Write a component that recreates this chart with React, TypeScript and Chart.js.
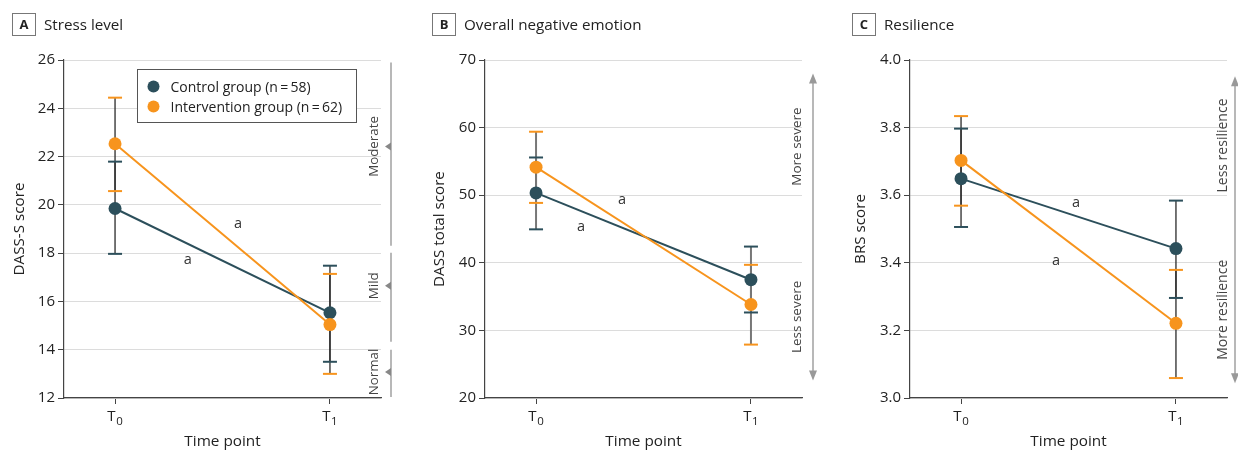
import React, { useEffect, useRef } from 'react';
import { Chart, registerables } from 'chart.js';

Chart.register(...registerables);

const FONT = '"Open Sans", "Noto Sans", sans-serif';
Chart.defaults.font.family = FONT;

// ---------- data ----------
const timeValues = [0, 1];
const timeMain = ['T', 'T'];
const timeSub = ['0', '1'];
const seriesNames = ['Control group (n\u2009=\u200958)', 'Intervention group (n\u2009=\u200962)'];
const seriesColors = ['#2c4f5b', '#f7941d'];

// A: stress
const stressControl = [19.85, 15.53];
const stressControlLo = [17.97, 13.5];
const stressControlHi = [21.79, 17.48];
const stressIntervention = [22.53, 15.04];
const stressInterventionLo = [20.57, 13.0];
const stressInterventionHi = [24.44, 17.14];
const stressMarkX = [0.572, 0.339];
const stressMarkY = [19.22, 17.73];
const stressBandLabels = ['Moderate', 'Mild', 'Normal'];
const stressBandFrom = [18.31, 14.33, 12.04];
const stressBandTo = [25.9, 18.02, 14.0];
const stressBandMark = [22.42, 16.65, 13.08];

// B: overall negative emotion
const negControl = [50.34, 37.5];
const negControlLo = [44.95, 32.65];
const negControlHi = [55.58, 42.4];
const negIntervention = [54.14, 33.83];
const negInterventionLo = [48.86, 27.9];
const negInterventionHi = [59.39, 39.7];
const negMarkX = [0.4, 0.209];
const negMarkY = [49.35, 45.35];
const negArrow = [22.6, 68.0];
const negArrowLabels = ['More severe', 'Less severe'];
const negArrowLabelY = [57.2, 32.0];

// C: resilience
const resControl = [3.649, 3.442];
const resControlLo = [3.506, 3.296];
const resControlHi = [3.797, 3.584];
const resIntervention = [3.703, 3.221];
const resInterventionLo = [3.569, 3.059];
const resInterventionHi = [3.834, 3.379];
const resMarkX = [0.535, 0.4415];
const resMarkY = [3.578, 3.406];
const resArrow = [3.044, 3.952];
const resArrowLabels = ['Less resilience', 'More resilience'];
const resArrowLabelY = [3.747, 3.261];

// ---------- panel specs ----------
const CHART_LEFT = 64;
const CHART_RIGHT = 381;
const H = 451;

const panels = [
  {
    key: 'A', letter: 'A', title: 'Stress level',
    canvasLeft: 0, canvasWidth: 421, boxLeft: 12, textLeft: 44,
    yMin: 12, yMax: 26, yStep: 2, yDec: 0, yTitle: 'DASS-S score', yTitlePad: 11,
    control: { mean: stressControl, lo: stressControlLo, hi: stressControlHi },
    intervention: { mean: stressIntervention, lo: stressInterventionLo, hi: stressInterventionHi },
    markX: stressMarkX, markY: stressMarkY,
    stemColor: '#2a2a2a', stemWidth: 1.3, legend: true, sideFont: 13.3,
    side: { type: 'bands', labels: stressBandLabels, from: stressBandFrom, to: stressBandTo, mark: stressBandMark, lineDx: 10, labelDx: -3 },
  },
  {
    key: 'B', letter: 'B', title: 'Overall negative emotion',
    canvasLeft: 421, canvasWidth: 425, boxLeft: 432, textLeft: 464,
    yMin: 20, yMax: 70, yStep: 10, yDec: 0, yTitle: 'DASS total score', yTitlePad: 10,
    control: { mean: negControl, lo: negControlLo, hi: negControlHi },
    intervention: { mean: negIntervention, lo: negInterventionLo, hi: negInterventionHi },
    markX: negMarkX, markY: negMarkY,
    stemColor: '#777', stemWidth: 2, legend: false, sideFont: 13.5,
    side: { type: 'arrow', range: negArrow, labels: negArrowLabels, labelY: negArrowLabelY, lineDx: 11, labelDx: -1 },
  },
  {
    key: 'C', letter: 'C', title: 'Resilience',
    canvasLeft: 846, canvasWidth: 392, boxLeft: 852, textLeft: 884,
    yMin: 3.0, yMax: 4.0, yStep: 0.2, yDec: 1, yTitle: 'BRS score', yTitlePad: 5.5,
    control: { mean: resControl, lo: resControlLo, hi: resControlHi },
    intervention: { mean: resIntervention, lo: resInterventionLo, hi: resInterventionHi },
    markX: resMarkX, markY: resMarkY,
    stemColor: '#2a2a2a', stemWidth: 1.3, legend: false, sideFont: 14,
    side: { type: 'arrow', range: resArrow, labels: resArrowLabels, labelY: resArrowLabelY, lineDx: 8, labelDx: -0.5 },
  },
];

type PanelSpec = (typeof panels)[number];

const errorBarPlugin = {
  id: 'errbars',
  beforeDatasetsDraw(chart: any, _args: any, opts: any) {
    const { ctx } = chart;
    const x = chart.scales.x;
    const y = chart.scales.y;
    ctx.save();
    ctx.lineCap = 'butt';
    chart.data.datasets.forEach((ds: any) => {
      ds.data.forEach((p: any, i: number) => {
        const px = x.getPixelForValue(p.x);
        ctx.strokeStyle = opts.stemColor;
        ctx.lineWidth = opts.stemWidth;
        ctx.beginPath();
        ctx.moveTo(px, y.getPixelForValue(ds.errLo[i]));
        ctx.lineTo(px, y.getPixelForValue(ds.errHi[i]));
        ctx.stroke();
      });
    });
    chart.data.datasets.forEach((ds: any) => {
      ds.data.forEach((p: any, i: number) => {
        const px = x.getPixelForValue(p.x);
        ctx.strokeStyle = ds.borderColor;
        ctx.lineWidth = 2;
        [ds.errLo[i], ds.errHi[i]].forEach((v: number) => {
          const py = y.getPixelForValue(v);
          ctx.beginPath();
          ctx.moveTo(px - 7, py);
          ctx.lineTo(px + 7, py);
          ctx.stroke();
        });
      });
    });
    ctx.restore();
  },
};

function rotatedText(ctx: CanvasRenderingContext2D, text: string, bx: number, cy: number) {
  ctx.save();
  ctx.translate(bx, cy);
  ctx.rotate(-Math.PI / 2);
  ctx.textAlign = 'center';
  ctx.textBaseline = 'alphabetic';
  ctx.fillText(text, 0, 0);
  ctx.restore();
}

const decorPlugin = {
  id: 'decor',
  afterDatasetsDraw(chart: any, _args: any, opts: any) {
    const { ctx, chartArea } = chart;
    const x = chart.scales.x;
    const y = chart.scales.y;
    const p: PanelSpec = opts.panel;
    ctx.save();

    // x tick labels with subscripts
    ctx.fillStyle = '#222';
    ctx.textBaseline = 'alphabetic';
    ctx.textAlign = 'left';
    timeValues.forEach((v, i) => {
      ctx.font = `15px ${FONT}`;
      const wMain = ctx.measureText(timeMain[i]).width;
      ctx.font = `11.5px ${FONT}`;
      const wSub = ctx.measureText(timeSub[i]).width;
      const cx = x.getPixelForValue(v);
      const start = cx - (wMain + wSub + 0.5) / 2;
      const base = chartArea.bottom + 23;
      ctx.font = `15px ${FONT}`;
      ctx.fillText(timeMain[i], start, base);
      ctx.font = `11.5px ${FONT}`;
      ctx.fillText(timeSub[i], start + wMain + 0.5, base + 4);
    });

    // "a" marks
    ctx.fillStyle = '#333';
    ctx.font = `14.5px ${FONT}`;
    ctx.textAlign = 'center';
    p.markX.forEach((mx: number, i: number) => {
      ctx.fillText('a', x.getPixelForValue(mx), y.getPixelForValue(p.markY[i]) + 4);
    });

    // side annotations
    const side: any = p.side;
    const lx = chartArea.right + side.lineDx;
    const tx = chartArea.right + side.labelDx;
    ctx.font = `${p.sideFont}px ${FONT}`;
    ctx.fillStyle = '#444';
    if (side.type === 'bands') {
      side.labels.forEach((lab: string, i: number) => {
        const y0 = y.getPixelForValue(side.to[i]);
        const y1 = y.getPixelForValue(side.from[i]);
        const ym = y.getPixelForValue(side.mark[i]);
        ctx.strokeStyle = '#a0a0a0';
        ctx.lineWidth = 1.5;
        ctx.beginPath();
        ctx.moveTo(lx, y0);
        ctx.lineTo(lx, y1);
        ctx.stroke();
        ctx.fillStyle = '#888';
        ctx.beginPath();
        ctx.moveTo(lx - 6, ym);
        ctx.lineTo(lx, ym - 4);
        ctx.lineTo(lx, ym + 4);
        ctx.closePath();
        ctx.fill();
        ctx.fillStyle = '#444';
        rotatedText(ctx, lab, tx, ym);
      });
    } else {
      const yb = y.getPixelForValue(side.range[0]);
      const yt = y.getPixelForValue(side.range[1]);
      ctx.strokeStyle = '#a0a0a0';
      ctx.lineWidth = 1.5;
      ctx.beginPath();
      ctx.moveTo(lx, yt + 8);
      ctx.lineTo(lx, yb - 8);
      ctx.stroke();
      ctx.fillStyle = '#999';
      ctx.beginPath();
      ctx.moveTo(lx, yt);
      ctx.lineTo(lx - 4, yt + 10);
      ctx.lineTo(lx + 4, yt + 10);
      ctx.closePath();
      ctx.fill();
      ctx.beginPath();
      ctx.moveTo(lx, yb);
      ctx.lineTo(lx - 4, yb - 10);
      ctx.lineTo(lx + 4, yb - 10);
      ctx.closePath();
      ctx.fill();
      ctx.fillStyle = '#444';
      side.labels.forEach((lab: string, i: number) => {
        rotatedText(ctx, lab, tx, y.getPixelForValue(side.labelY[i]));
      });
    }

    // legend
    if (p.legend) {
      const bx = chartArea.left + 73.5;
      const by = chartArea.top + 9.5;
      ctx.strokeStyle = '#555';
      ctx.lineWidth = 1;
      ctx.fillStyle = '#fff';
      ctx.fillRect(bx, by, 219, 53);
      ctx.strokeRect(bx, by, 219, 53);
      ctx.font = `14px ${FONT}`;
      ctx.textAlign = 'left';
      seriesNames.forEach((name, i) => {
        const cy = by + 17 + i * 20;
        ctx.fillStyle = seriesColors[i];
        ctx.beginPath();
        ctx.arc(bx + 16, cy, 6, 0, Math.PI * 2);
        ctx.fill();
        ctx.fillStyle = '#222';
        ctx.fillText(name, bx + 33, cy + 5);
      });
    }
    ctx.restore();
  },
};

function Panel({ p }: { p: PanelSpec }) {
  const ref = useRef<HTMLCanvasElement | null>(null);
  useEffect(() => {
    if (!ref.current) return;
    const common = {
      borderWidth: 2,
      pointRadius: 6.5,
      pointHoverRadius: 6.5,
      pointBorderWidth: 0,
      tension: 0,
      fill: false,
    };
    const toPts = (arr: number[]) => arr.map((v, i) => ({ x: timeValues[i], y: v }));
    const chart = new Chart(ref.current, {
      type: 'line',
      data: {
        datasets: [
          {
            label: seriesNames[1],
            data: toPts(p.intervention.mean),
            errLo: p.intervention.lo,
            errHi: p.intervention.hi,
            borderColor: seriesColors[1],
            backgroundColor: seriesColors[1],
            pointBackgroundColor: seriesColors[1],
            order: 0,
            ...common,
          } as any,
          {
            label: seriesNames[0],
            data: toPts(p.control.mean),
            errLo: p.control.lo,
            errHi: p.control.hi,
            borderColor: seriesColors[0],
            backgroundColor: seriesColors[0],
            pointBackgroundColor: seriesColors[0],
            order: 1,
            ...common,
          } as any,
        ],
      },
      options: {
        responsive: false,
        animation: false,
        events: [],
        layout: { padding: { top: 60, left: 0, bottom: 0, right: p.canvasWidth - CHART_RIGHT } },
        scales: {
          x: {
            type: 'linear',
            min: -0.2375,
            max: 1.2375,
            afterBuildTicks: (scale: any) => {
              scale.ticks = timeValues.map((v) => ({ value: v }));
            },
            afterFit: (scale: any) => {
              scale.height = 53;
            },
            ticks: { display: false },
            grid: { drawOnChartArea: false, drawTicks: true, tickLength: 6, tickColor: '#444' },
            border: { color: '#444', width: 1.2 },
            title: {
              display: true,
              text: 'Time point',
              font: { size: 15.3, family: FONT },
              color: '#222',
              padding: { top: 0, bottom: 0 },
            },
          },
          y: {
            type: 'linear',
            min: p.yMin,
            max: p.yMax,
            afterFit: (scale: any) => {
              scale.width = CHART_LEFT;
            },
            ticks: {
              stepSize: p.yStep,
              callback: (v: any) => Number(v).toFixed(p.yDec),
              font: { size: 15, family: FONT },
              color: '#222',
              padding: 3,
            },
            grid: { color: '#dcdcdc', lineWidth: 1, drawTicks: true, tickLength: 6, tickColor: '#444' },
            border: { color: '#444', width: 1.2 },
            title: {
              display: true,
              text: p.yTitle,
              font: { size: 15.2, family: FONT },
              color: '#222',
              padding: { top: p.yTitlePad, bottom: 0 },
            },
          },
        },
        plugins: {
          legend: { display: false },
          tooltip: { enabled: false },
          errbars: { stemColor: p.stemColor, stemWidth: p.stemWidth },
          decor: { panel: p },
        } as any,
      },
      plugins: [errorBarPlugin, decorPlugin],
    } as any);
    return () => chart.destroy();
  }, [p]);

  return (
    <>
      <canvas
        ref={ref}
        width={p.canvasWidth}
        height={H}
        style={{ position: 'absolute', left: p.canvasLeft, top: 0, width: p.canvasWidth, height: H }}
      />
      <div
        style={{
          position: 'absolute',
          left: p.boxLeft,
          top: 13,
          width: 22,
          height: 21,
          border: '1px solid #777',
          fontFamily: FONT,
          fontWeight: 700,
          fontSize: 13,
          lineHeight: '21px',
          textAlign: 'center',
          color: '#222',
        }}
      >
        {p.letter}
      </div>
      <div
        style={{
          position: 'absolute',
          left: p.textLeft,
          top: 14,
          fontFamily: FONT,
          fontSize: 15.2,
          lineHeight: '20px',
          color: '#222',
          whiteSpace: 'nowrap',
        }}
      >
        {p.title}
      </div>
    </>
  );
}

export default function App() {
  return (
    <div
      style={{
        position: 'absolute',
        left: 0,
        top: 0,
        width: 1238,
        height: H,
        overflow: 'hidden',
        background: '#fff',
      }}
    >
      {panels.map((p) => (
        <Panel key={p.key} p={p} />
      ))}
    </div>
  );
}
